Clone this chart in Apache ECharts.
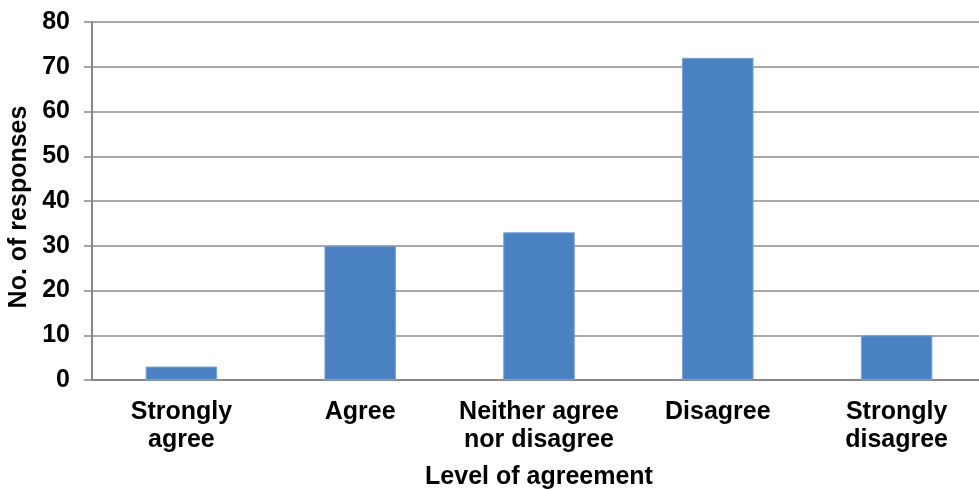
<!DOCTYPE html>
<html>
<head>
<meta charset="utf-8">
<style>
  html, body { margin: 0; padding: 0; background: #fff; overflow: hidden; }
  #chart { width: 979px; height: 490px; }
</style>
<script src="https://cdn.jsdelivr.net/npm/echarts@6/dist/echarts.min.js"></script>
</head>
<body>
<div id="chart"></div>
<script>
// Survey responses by level of agreement
const categories = ['Strongly\nagree', 'Agree', 'Neither agree\nnor disagree', 'Disagree', 'Strongly\ndisagree'];
const responses = [3, 30, 33, 72, 10];
const yTicks = { min: 0, max: 80, interval: 10 };

const font = 'Liberation Sans, Arial, sans-serif';
const chart = echarts.init(document.getElementById('chart'), null, { renderer: 'canvas' });

chart.setOption({
  animation: false,
  backgroundColor: '#ffffff',
  grid: {
    left: 92, top: 22, width: 894, height: 358,
    containLabel: false,
    outerBoundsMode: 'none'
  },
  xAxis: {
    type: 'category',
    data: categories,
    name: 'Level of agreement',
    nameLocation: 'middle',
    nameGap: 85,
    nameTextStyle: { fontFamily: font, fontWeight: 'bold', fontSize: 25, color: '#000' },
    axisLine: { lineStyle: { color: '#888888', width: 2 } },
    axisTick: { show: false },
    axisLabel: {
      interval: 0,
      margin: 18,
      fontFamily: font, fontWeight: 'bold', fontSize: 25, color: '#000',
      lineHeight: 28
    },
    splitLine: { show: false }
  },
  yAxis: {
    type: 'value',
    min: yTicks.min,
    max: yTicks.max,
    interval: yTicks.interval,
    name: 'No. of responses',
    nameLocation: 'middle',
    nameGap: 52,
    nameTextStyle: {
      fontFamily: font, fontWeight: 'bold', fontSize: 25, color: '#000',
      padding: [0, 12, 0, 0]
    },
    axisLine: { show: true, lineStyle: { color: '#888888', width: 2 } },
    axisTick: { show: true, length: 8, lineStyle: { color: '#888888', width: 1.5 } },
    axisLabel: { margin: 22, fontFamily: font, fontWeight: 'bold', fontSize: 25, color: '#000' },
    splitLine: { show: true, lineStyle: { color: '#8c8c8c', width: 1.5 } }
  },
  series: [{
    type: 'bar',
    data: responses,
    barWidth: '40%',
    itemStyle: { color: '#4a81c0', borderColor: '#7aa3d4', borderWidth: 1 }
  }]
});
</script>
</body>
</html>
